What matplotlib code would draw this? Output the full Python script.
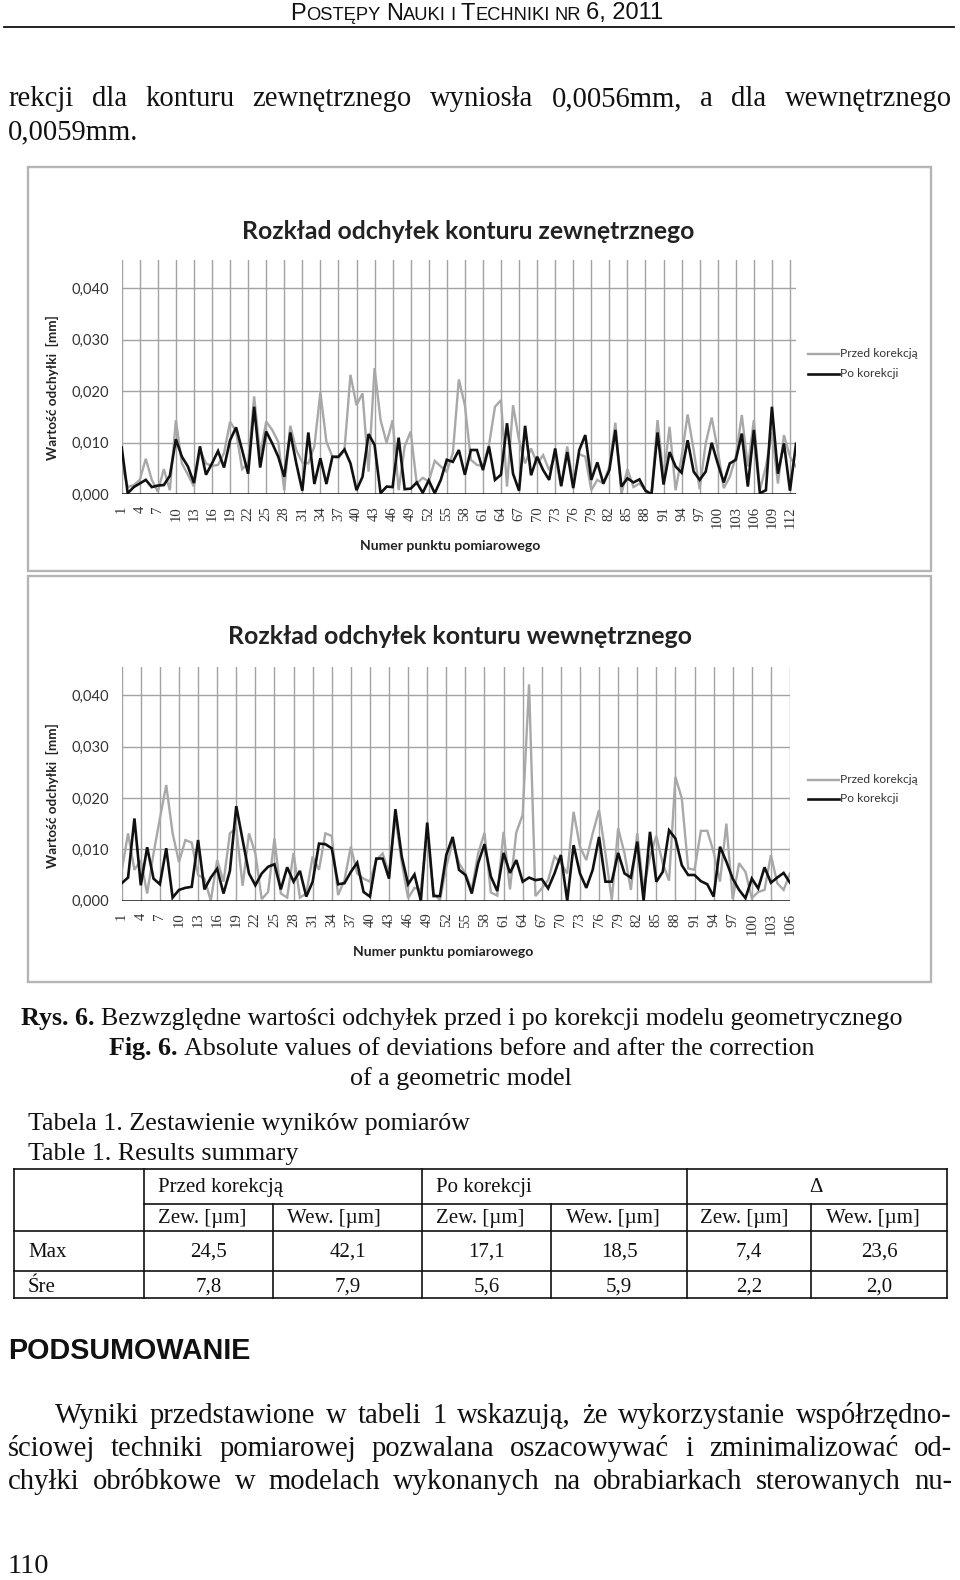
import matplotlib
matplotlib.use('Agg')
import matplotlib.pyplot as plt
from matplotlib import font_manager as fm
from matplotlib.patches import Rectangle

# ---------------- data ----------------
points_outer = list(range(1, 114))
before_outer = [0.0060, 0.0014, 0.0018, 0.0028, 0.0069, 0.0028, 0.0005, 0.0049, 0.0008, 0.0144,
                0.0060, 0.0038, 0.0015, 0.0086, 0.0060, 0.0055, 0.0057, 0.0080, 0.0141, 0.0122,
                0.0049, 0.0060, 0.0190, 0.0076, 0.0141, 0.0125, 0.0102, 0.0008, 0.0133, 0.0086,
                0.0062, 0.0060, 0.0093, 0.0198, 0.0102, 0.0073, 0.0070, 0.0086, 0.0232, 0.0173,
                0.0196, 0.0044, 0.0245, 0.0144, 0.0100, 0.0144, 0.0008, 0.0093, 0.0122, 0.0021,
                0.0032, 0.0025, 0.0065, 0.0054, 0.0044, 0.0080, 0.0223, 0.0173, 0.0067, 0.0057,
                0.0055, 0.0095, 0.0170, 0.0183, 0.0015, 0.0173, 0.0105, 0.0060, 0.0089, 0.0060,
                0.0076, 0.0047, 0.0073, 0.0015, 0.0093, 0.0021, 0.0078, 0.0073, 0.0008, 0.0028,
                0.0021, 0.0054, 0.0139, 0.0000, 0.0049, 0.0014, 0.0021, 0.0008, 0.0000, 0.0144,
                0.0034, 0.0131, 0.0008, 0.0073, 0.0155, 0.0086, 0.0010, 0.0099, 0.0149, 0.0086,
                0.0012, 0.0034, 0.0073, 0.0154, 0.0054, 0.0144, 0.0008, 0.0054, 0.0120, 0.0021,
                0.0115, 0.0073, 0.0054]
after_outer = [0.0091, 0.0002, 0.0014, 0.0021, 0.0028, 0.0014, 0.0017, 0.0018, 0.0036, 0.0107,
               0.0073, 0.0054, 0.0022, 0.0093, 0.0038, 0.0060, 0.0084, 0.0052, 0.0105, 0.0130,
               0.0086, 0.0040, 0.0170, 0.0052, 0.0122, 0.0099, 0.0073, 0.0034, 0.0120, 0.0060,
               0.0007, 0.0120, 0.0020, 0.0070, 0.0020, 0.0073, 0.0073, 0.0087, 0.0060, 0.0008,
               0.0034, 0.0117, 0.0096, 0.0002, 0.0015, 0.0014, 0.0110, 0.0010, 0.0011, 0.0023,
               0.0003, 0.0027, 0.0002, 0.0028, 0.0067, 0.0063, 0.0086, 0.0038, 0.0086, 0.0086,
               0.0047, 0.0093, 0.0028, 0.0038, 0.0138, 0.0040, 0.0007, 0.0133, 0.0037, 0.0073,
               0.0047, 0.0028, 0.0089, 0.0016, 0.0082, 0.0012, 0.0086, 0.0115, 0.0028, 0.0062,
               0.0021, 0.0047, 0.0125, 0.0015, 0.0031, 0.0023, 0.0029, 0.0007, 0.0000, 0.0120,
               0.0019, 0.0082, 0.0054, 0.0042, 0.0105, 0.0044, 0.0028, 0.0044, 0.0100, 0.0060,
               0.0023, 0.0060, 0.0067, 0.0118, 0.0015, 0.0125, 0.0002, 0.0008, 0.0170, 0.0040,
               0.0099, 0.0007, 0.0098]

points_inner = list(range(1, 107))
before_inner = [0.0058, 0.0131, 0.0060, 0.0079, 0.0014, 0.0092, 0.0160, 0.0225, 0.0131, 0.0075,
                0.0118, 0.0113, 0.0050, 0.0043, 0.0000, 0.0079, 0.0037, 0.0131, 0.0141, 0.0029,
                0.0131, 0.0092, 0.0003, 0.0017, 0.0121, 0.0014, 0.0006, 0.0093, 0.0006, 0.0014,
                0.0086, 0.0060, 0.0131, 0.0126, 0.0011, 0.0040, 0.0105, 0.0053, 0.0043, 0.0037,
                0.0079, 0.0092, 0.0053, 0.0163, 0.0074, 0.0005, 0.0025, 0.0021, 0.0134, 0.0014,
                0.0001, 0.0066, 0.0115, 0.0073, 0.0053, 0.0021, 0.0092, 0.0132, 0.0016, 0.0010,
                0.0134, 0.0022, 0.0133, 0.0167, 0.0421, 0.0009, 0.0024, 0.0040, 0.0086, 0.0073,
                0.0053, 0.0173, 0.0105, 0.0079, 0.0131, 0.0176, 0.0092, 0.0001, 0.0141, 0.0092,
                0.0021, 0.0131, 0.0021, 0.0086, 0.0126, 0.0073, 0.0039, 0.0241, 0.0199, 0.0063,
                0.0060, 0.0136, 0.0136, 0.0095, 0.0037, 0.0150, 0.0003, 0.0073, 0.0056, 0.0005,
                0.0017, 0.0021, 0.0089, 0.0034, 0.0021, 0.0053]
after_inner = [0.0034, 0.0045, 0.0160, 0.0030, 0.0104, 0.0043, 0.0032, 0.0102, 0.0006, 0.0021,
               0.0025, 0.0027, 0.0118, 0.0022, 0.0045, 0.0062, 0.0014, 0.0058, 0.0184, 0.0118,
               0.0053, 0.0030, 0.0053, 0.0066, 0.0071, 0.0022, 0.0065, 0.0037, 0.0058, 0.0008,
               0.0037, 0.0111, 0.0110, 0.0102, 0.0032, 0.0034, 0.0056, 0.0074, 0.0017, 0.0008,
               0.0082, 0.0082, 0.0043, 0.0178, 0.0086, 0.0032, 0.0051, 0.0000, 0.0152, 0.0009,
               0.0009, 0.0089, 0.0124, 0.0060, 0.0050, 0.0014, 0.0073, 0.0110, 0.0047, 0.0019,
               0.0093, 0.0054, 0.0079, 0.0037, 0.0045, 0.0040, 0.0042, 0.0024, 0.0053, 0.0089,
               0.0000, 0.0108, 0.0053, 0.0025, 0.0060, 0.0124, 0.0037, 0.0037, 0.0093, 0.0053,
               0.0045, 0.0115, 0.0000, 0.0134, 0.0037, 0.0056, 0.0137, 0.0121, 0.0069, 0.0050,
               0.0050, 0.0038, 0.0032, 0.0008, 0.0105, 0.0076, 0.0043, 0.0021, 0.0005, 0.0043,
               0.0024, 0.0065, 0.0035, 0.0045, 0.0054, 0.0035]

xticks_outer = list(range(1, 113, 3))
xticks_inner = list(range(1, 107, 3))
ytick_values = [0.0, 0.01, 0.02, 0.03, 0.04]
ytick_labels = ['0,000', '0,010', '0,020', '0,030', '0,040']
series_names = ['Przed korekcją', 'Po korekcji']

table_groups = ['Przed korekcją', 'Po korekcji', 'Δ']
table_subcols = ['Zew. [µm]', 'Wew. [µm]', 'Zew. [µm]', 'Wew. [µm]', 'Zew. [µm]', 'Wew. [µm]']
table_rows = ['Max', 'Śre']
table_max = ['24,5', '42,1', '17,1', '18,5', '7,4', '23,6']
table_mean = ['7,8', '7,9', '5,6', '5,9', '2,2', '2,0']

# ---------------- page setup ----------------
W, H = 960, 1580
fig = plt.figure(figsize=(W / 100, H / 100), dpi=100)
fig.patch.set_facecolor('white')
page = fig.add_axes([0, 0, 1, 1])
page.set_xlim(0, W)
page.set_ylim(H, 0)
page.axis('off')
R = fig.canvas.get_renderer()


def has_font(name):
    try:
        fm.findfont(fm.FontProperties(family=name), fallback_to_default=False)
        return True
    except Exception:
        return False


SERIF = 'Liberation Serif'
SANS = 'Liberation Sans'
NARROW = 'Liberation Sans Narrow' if has_font('Liberation Sans Narrow') else SANS
CHART = 'Lato' if has_font('Lato') else 'DejaVu Sans'


def put(x, y, s, size, family=SERIF, weight='normal', ha='left', va='baseline', **kw):
    return page.text(x, y, s, fontsize=size, family=family, weight=weight,
                     ha=ha, va=va, color=kw.pop('color', '#111111'), **kw)


def width(t):
    return t.get_window_extent(renderer=R).width


def space_w(size, family, weight='normal'):
    a = put(0, 0, 'x x', size, family, weight)
    b = put(0, 0, 'xx', size, family, weight)
    w = width(a) - width(b)
    a.remove(); b.remove()
    return w


def fit_size(s, target, family, weight='normal', base=10):
    t = put(0, 0, s, base, family, weight)
    w = width(t)
    t.remove()
    return base * target / w


def runs(x, y, pieces):
    """pieces: (text, size, family, weight, space_after)"""
    for s, size, fam, wt, sp in pieces:
        t = put(x, y, s, size, fam, wt)
        x += width(t)
        if sp:
            x += space_w(size, fam, wt)
    return x


def justify(x0, x1, y, line, size, family=SERIF):
    words = line.split()
    ts = [put(0, y, w, size, family) for w in words]
    ws = [width(t) for t in ts]
    gap = (x1 - x0 - sum(ws)) / max(len(words) - 1, 1)
    x = x0
    for t, w in zip(ts, ws):
        t.set_x(x)
        x += w + gap


# ---------------- header ----------------
L_SZ, S_SZ = 17.0, 13.2
hdr = [('P', L_SZ, NARROW, 'normal', False), ('OSTĘPY', S_SZ, NARROW, 'normal', True),
       ('N', L_SZ, NARROW, 'normal', False), ('AUKI', S_SZ, NARROW, 'normal', True),
       ('I', S_SZ, NARROW, 'normal', True),
       ('T', L_SZ, NARROW, 'normal', False), ('ECHNIKI', S_SZ, NARROW, 'normal', True),
       ('NR', S_SZ, NARROW, 'normal', True), ('6, 2011', L_SZ, NARROW, 'normal', False)]
tmp = [put(0, 0, p[0], p[1], p[2]) for p in hdr]
tot = sum(width(t) for t in tmp) + sum(space_w(p[1], p[2]) for p in hdr if p[4])
for t in tmp:
    t.remove()
runs(477 - tot / 2, 19.5, hdr)
page.plot([4, 954], [26.5, 26.5], color='#111111', lw=1.3)

# ---------------- body text ----------------
BODY = 20.6
justify(8, 952, 106, 'rekcji dla konturu zewnętrznego wyniosła 0,0056mm, a dla wewnętrznego', BODY)
put(8, 139, '0,0059mm.', BODY)


# ---------------- charts ----------------
def chart(box, plot_px, pts, before, after, xticks, title, title_c, title_w,
          ylab_c, xlab_c, leg_y, ymax):
    bx0, by0, bx1, by1 = box
    page.add_patch(Rectangle((bx0, by0), bx1 - bx0, by1 - by0, fill=False,
                             ec='#b5b5b5', lw=1.7))
    Lp, Rp, Y0, Yt = plot_px
    ax = fig.add_axes([Lp / W, 1 - Y0 / H, (Rp - Lp) / W, (Y0 - Yt) / H])
    ax.patch.set_alpha(0)
    ax.set_xlim(pts[0], pts[-1])
    ax.set_ylim(0, ymax)
    for s in ax.spines.values():
        s.set_visible(False)
    for v in ytick_values[1:]:
        ax.axhline(v, color='#a3a3a3', lw=1.0, zorder=1)
    for t in xticks:
        ax.axvline(t, color='#a3a3a3', lw=1.0, zorder=1)
    ax.plot(pts, before, color='#a8a8a8', lw=1.7, zorder=3, solid_joinstyle='miter')
    ax.plot(pts, after, color='#111111', lw=1.9, zorder=4, solid_joinstyle='miter')
    ax.axhline(0, color='#111111', lw=1.8, zorder=5)
    ax.set_yticks(ytick_values, ytick_labels)
    ax.set_xticks(xticks, [str(t) for t in xticks])
    ax.tick_params(axis='y', length=0, pad=9.2, labelsize=10.6, labelcolor='#333333')
    ax.tick_params(axis='x', length=0, pad=8.5, labelsize=10.6, labelcolor='#333333',
                   labelrotation=90)
    for lab in ax.get_yticklabels():
        lab.set_family(CHART)
    for lab in ax.get_xticklabels():
        lab.set_family(SERIF)
    # title
    ts = fit_size(title, title_w, CHART, 'bold')
    put(title_c[0], title_c[1], title, ts, CHART, 'bold', ha='center', va='center',
        color='#222222')
    # y label
    yl = 'Wartość odchyłki  [mm]'
    ys = fit_size(yl, 144, CHART, 'bold')
    put(ylab_c[0], ylab_c[1], yl, ys, CHART, 'bold', ha='center', va='center',
        rotation=90, color='#222222')
    # x label
    xl = 'Numer punktu pomiarowego'
    xs = fit_size(xl, 180, CHART, 'bold')
    put(xlab_c[0], xlab_c[1], xl, xs, CHART, 'bold', ha='center', va='center',
        color='#222222')
    # legend
    ls = fit_size(series_names[0], 78, CHART)
    for name, col, lw, yy in [(series_names[0], '#a8a8a8', 1.7, leg_y[0]),
                              (series_names[1], '#111111', 1.9, leg_y[1])]:
        page.plot([808, 839], [yy, yy], color=col, lw=lw)
        put(840, yy, name, ls, CHART, ha='left', va='center', color='#333333')


chart((28, 167, 931, 571), (121.7, 796, 494.3, 494.3 - 0.0455 * 5150),
      points_outer, before_outer, after_outer, xticks_outer,
      'Rozkład odchyłek konturu zewnętrznego', (468.5, 231.5), 454,
      (52.4, 388), (450, 546), (353.5, 373.5), 0.0455)
chart((28, 576, 931, 982), (121.7, 790, 900.7, 900.7 - 0.0455 * 5140),
      points_inner, before_inner, after_inner, xticks_inner,
      'Rozkład odchyłek konturu wewnętrznego', (460.5, 636.5), 465,
      (52.4, 796), (443, 952), (779.5, 799), 0.0455)

# ---------------- caption ----------------
CAP = 18.75
runs(21, 1025, [('Rys. 6.', CAP, SERIF, 'bold', True),
                ('Bezwzględne wartości odchyłek przed i po korekcji modelu geometrycznego',
                 CAP, SERIF, 'normal', False)])
runs(109, 1055, [('Fig. 6.', CAP, SERIF, 'bold', True),
                 ('Absolute values of deviations before and after the correction',
                  CAP, SERIF, 'normal', False)])
put(461, 1085, 'of a geometric model', CAP, SERIF, ha='center')
put(28, 1130, 'Tabela 1. Zestawienie wyników pomiarów', CAP, SERIF)
put(28, 1160, 'Table 1. Results summary', CAP, SERIF)

# ---------------- table ----------------
TB = 15.0
cx = [14, 144, 273, 422, 551, 687, 811, 947]
ry = [1168.5, 1204, 1231, 1271, 1297.5]
lwt = 1.2
for y in [ry[0], ry[2], ry[3], ry[4]]:
    page.plot([cx[0], cx[-1]], [y, y], color='#111111', lw=lwt)
page.plot([cx[1], cx[-1]], [ry[1], ry[1]], color='#111111', lw=lwt)
for x in [cx[0], cx[1], cx[3], cx[5], cx[7]]:
    page.plot([x, x], [ry[0], ry[4]], color='#111111', lw=lwt)
for x in [cx[2], cx[4], cx[6]]:
    page.plot([x, x], [ry[1], ry[4]], color='#111111', lw=lwt)

put(158, 1192, table_groups[0], TB, SERIF)
put(436, 1192, table_groups[1], TB, SERIF)
put(816, 1192, table_groups[2], TB, SERIF, ha='center')
sub_x = [158, 287, 436, 566, 700, 826]
for x, s in zip(sub_x, table_subcols):
    put(x, 1223, s, TB, SERIF)
put(28, 1257, table_rows[0], TB, SERIF)
put(28, 1292, table_rows[1], TB, SERIF)
for i in range(6):
    c = (cx[i + 1] + cx[i + 2]) / 2
    put(c, 1257, table_max[i], TB, SERIF, ha='center')
    put(c, 1292, table_mean[i], TB, SERIF, ha='center')

# ---------------- summary ----------------
ps = fit_size('PODSUMOWANIE', 242, SANS, 'bold')
put(8, 1359, 'PODSUMOWANIE', ps, SANS, 'bold')
justify(55, 952, 1423, 'Wyniki przedstawione w tabeli 1 wskazują, że wykorzystanie współrzędno-', BODY)
justify(8, 952, 1456, 'ściowej techniki pomiarowej pozwalana oszacowywać i zminimalizować od-', BODY)
justify(8, 952, 1489, 'chyłki obróbkowe w modelach wykonanych na obrabiarkach sterowanych nu-', BODY)
put(8, 1573, '110', 20.5, SERIF)

fig.savefig('out.png', dpi=100, facecolor='white')
